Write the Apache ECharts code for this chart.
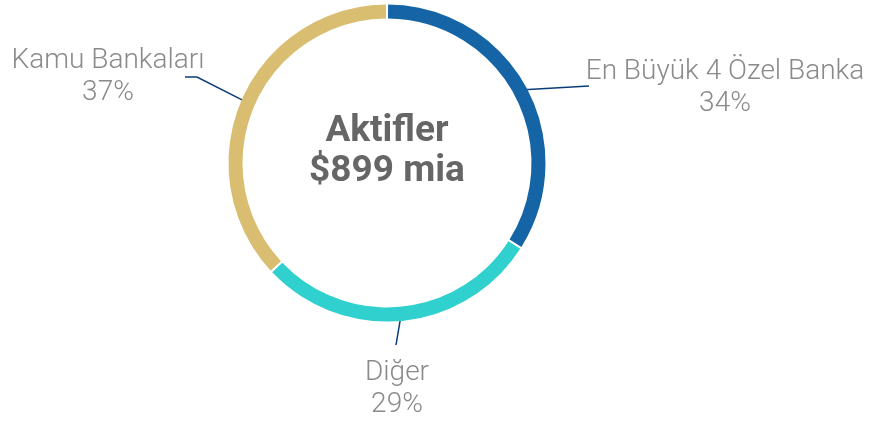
<!DOCTYPE html>
<html><head><meta charset="utf-8">
<script src="https://cdn.jsdelivr.net/npm/echarts@6/dist/echarts.min.js"></script>
<style>html,body{margin:0;padding:0;background:#fff}#c{width:871px;height:422px}</style>
</head><body><div id="c"></div>
<script>
const categories = ['En Büyük 4 Özel Banka', 'Diğer', 'Kamu Bankaları'];
const values = [34, 29, 37];
const colors = ['#1565a6', '#2fd0cd', '#d9be72'];
const centerTitle = 'Aktifler';
const centerValue = '$899 mia';

// label placement (layout, not data)
const CX = 387, CY = 163, RO = 158.5, RI = 144.5;
const labelPos = [
  {x: 725, y: 88, line: [[589, 86]]},
  {x: 397, y: 389, line: [[396, 345]]},
  {x: 108, y: 77, line: [[197, 77], [185, 77]]}
];

const total = values.reduce((a, b) => a + b, 0);
function midAngle(i) {
  let s = 0;
  for (let k = 0; k < i; k++) s += values[k];
  return (s + values[i] / 2) / total * 2 * Math.PI;
}

const chart = echarts.init(document.getElementById('c'));
chart.setOption({
  animation: false,
  graphic: [{
    type: 'text', x: CX, y: 152,
    style: {
      text: centerTitle + '\n' + centerValue,
      align: 'center', verticalAlign: 'middle',
      font: 'bold 37px Roboto', lineHeight: 40, fill: '#666666'
    }
  }],
  series: [{
    type: 'pie',
    center: [CX, CY],
    radius: [RI, RO],
    startAngle: 90,
    clockwise: true,
    padAngle: 0.8,
    data: categories.map((n, i) => ({name: n, value: values[i], itemStyle: {color: colors[i]}})),
    label: {
      show: true,
      formatter: '{b}\n{c}%',
      fontFamily: 'Roboto', fontWeight: 300, fontSize: 28, lineHeight: 32,
      color: '#8a8a8a', align: 'center', overflow: 'none', width: 400
    },
    labelLine: {show: true, lineStyle: {color: '#0b3c78', width: 1.5}},
    labelLayout: function (p) {
      const i = p.dataIndex;
      const a = midAngle(i);
      const r = (RO + RI) / 2;
      const start = [CX + r * Math.sin(a), CY - r * Math.cos(a)];
      const lp = labelPos[i];
      return {
        x: lp.x, y: lp.y, align: 'center', verticalAlign: 'middle',
        labelLinePoints: [start].concat(lp.line)
      };
    },
    emphasis: {disabled: true}
  }]
});
</script></body></html>
